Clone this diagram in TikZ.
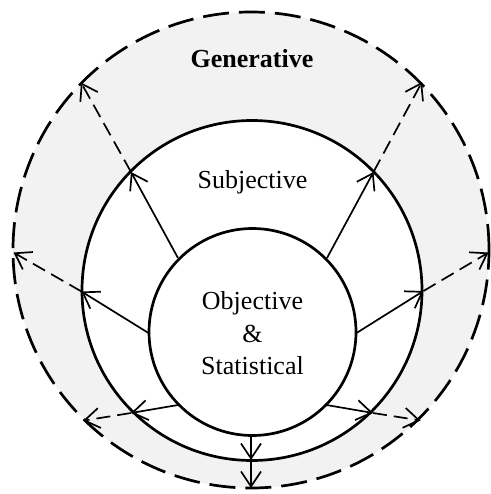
\documentclass[tikz,border=0pt]{standalone}
\usepackage{fontspec}
\setmainfont{Liberation Serif}
\usetikzlibrary{arrows.meta}
\definecolor{ringgray}{HTML}{F2F2F2}
\tikzset{
  ring/.style={circle, inner sep=0pt, outer sep=0pt, draw=black, line width=2.7pt},
  outerring/.style={ring, fill=ringgray, dash pattern=on 26pt off 10pt},
  solidarrow/.style={line width=1.7pt, -{Straight Barb[length=15pt,width=20pt]}},
  dasharrow/.style={solidarrow, dash pattern=on 14pt off 7pt},
  lbl/.style={anchor=base, inner sep=0pt, font=\fontsize{26}{30}\selectfont}
}
\begin{document}
\begin{tikzpicture}[x=1pt, y=-1pt]
\useasboundingbox (0,0) rectangle (490,494);
% circles
\node[outerring, minimum size=476pt] (outer) at (251,250) {};
\node[ring, fill=white, minimum size=340pt] (middle) at (252,290.5) {};
\node[ring, fill=white, minimum size=207pt] (inner) at (252.5,332) {};
% labels
\node[lbl, font=\fontsize{26}{30}\selectfont\bfseries] (gen) at (252,68) {Generative};
\node[lbl] (subj) at (252.5,188) {Subjective};
\node[lbl] (obj) at (252.5,309) {Objective};
\node[lbl] (amp) at (252.5,342) {\&};
\node[lbl] (stat) at (252.5,374) {Statistical};
% arrow points
\coordinate (s1) at (178,258);   \coordinate (m1) at (131,172);   \coordinate (t1) at (81,82.5);
\coordinate (s2) at (327,258);   \coordinate (m2) at (373.5,172); \coordinate (t2) at (422,82);
\coordinate (s3) at (148.5,333); \coordinate (m3) at (81.5,291.5);\coordinate (t3) at (13.5,252.5);
\coordinate (s4) at (356.5,333); \coordinate (m4) at (423.5,291); \coordinate (t4) at (488.5,252.5);
\coordinate (s5) at (178,405);   \coordinate (m5) at (131,413);   \coordinate (t5) at (83,420.7);
\coordinate (s6) at (326.5,405); \coordinate (m6) at (373,413);   \coordinate (t6) at (420.5,420.5);
\coordinate (s7) at (251,435.5); \coordinate (m7) at (251,460);   \coordinate (t7) at (251,488);
% connectors
\foreach \i in {1,...,6}{
  \draw[solidarrow] (s\i) -- (m\i);
  \draw[dasharrow] (m\i) -- (t\i);
}
\draw[solidarrow] (s7) -- (m7);
\draw[solidarrow] (m7) -- (t7);
\end{tikzpicture}
\end{document}
